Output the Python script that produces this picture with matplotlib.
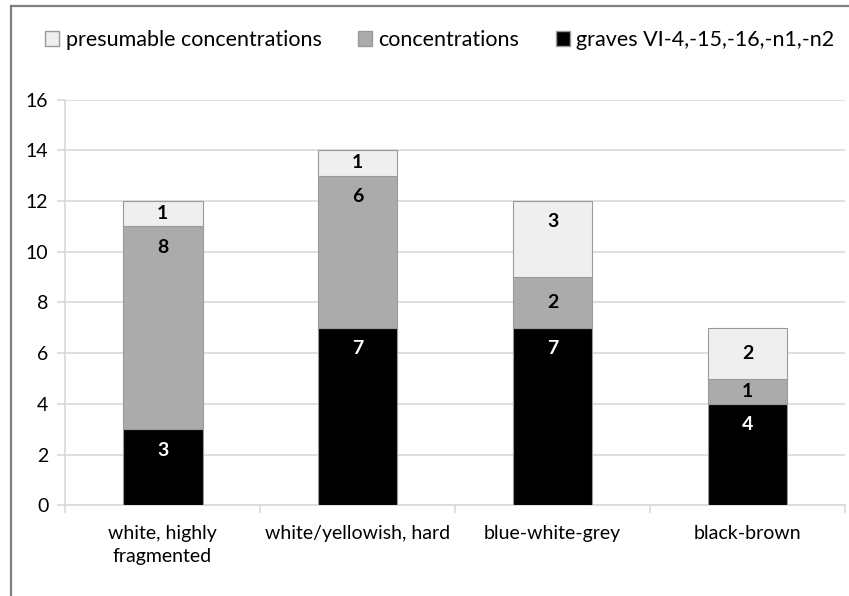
import numpy as np
import matplotlib.pyplot as plt
from matplotlib.lines import Line2D
from matplotlib.patches import Patch

categories = ['white, highly\nfragmented', 'white/yellowish, hard', 'blue-white-grey', 'black-brown']
graves = [3, 7, 7, 4]
concentrations = [8, 6, 2, 1]
presumable = [1, 1, 3, 2]
y_ticks = [0, 2, 4, 6, 8, 10, 12, 14, 16]

plt.rcParams['font.family'] = ['Lato', 'DejaVu Sans']

fig = plt.figure(figsize=(8.49, 5.96), dpi=100)
ax = fig.add_axes([0.0766, 0.152, 0.9187, 0.681])

x = np.arange(len(categories))
w = 0.41
series = [
    (graves, '#000000', 'graves VI-4,-15,-16,-n1,-n2', 'white'),
    (concentrations, '#ababab', 'concentrations', 'black'),
    (presumable, '#efefef', 'presumable concentrations', 'black'),
]
bottom = np.zeros(len(categories))
handles = []
for vals, color, label, tcolor in series:
    vals = np.array(vals)
    ax.bar(x, vals, w, bottom=bottom, color=color, edgecolor='#9a9a9a', linewidth=0.8, zorder=3)
    for xi, b, v in zip(x, bottom, vals):
        # short segments: label centred, tall ones: label near the top
        if v <= 2:
            ax.annotate(str(v), (xi, b + v / 2), ha='center', va='center', fontsize=14,
                        fontweight='bold', color=tcolor, zorder=4)
        else:
            ax.annotate(str(v), (xi, b + v), xytext=(0, -15), textcoords='offset points',
                        ha='center', va='center', fontsize=14, fontweight='bold',
                        color=tcolor, zorder=4)
    bottom = bottom + vals
    handles.append(Patch(facecolor=color, edgecolor='#9a9a9a', label=label))

ax.set_xlim(-0.5, 3.5)
ax.set_ylim(0, 16)
ax.set_yticks(y_ticks)
ax.yaxis.grid(True, color='#d9d9d9', linewidth=1.2, zorder=0)
ax.set_axisbelow(True)
ax.set_xticks(x)
ax.set_xticklabels(categories, fontsize=14, linespacing=1.45)
ax.set_xticks(np.arange(-0.5, 4, 1), minor=True)
ax.tick_params(axis='x', which='major', length=0, pad=14)
ax.tick_params(axis='x', which='minor', length=6, color='#d9d9d9', width=1.2)
ax.tick_params(axis='y', length=6, color='#d9d9d9', width=1.2, labelsize=14, pad=6)
for s in ['top', 'right']:
    ax.spines[s].set_visible(False)
for s in ['left', 'bottom']:
    ax.spines[s].set_color('#d9d9d9')
    ax.spines[s].set_linewidth(1.2)

fig.legend(handles=handles[::-1], loc='center', bbox_to_anchor=(0.518, 0.933), ncol=3,
           frameon=False, fontsize=15.5, handlelength=0.65, handleheight=0.65,
           handletextpad=0.3, columnspacing=1.7)

# frame drawn around the picture on the left and top
fig.add_artist(Line2D([0.013, 0.013], [0, 0.99], color='#7f7f7f', linewidth=1.6))
fig.add_artist(Line2D([0.013, 1.0], [0.99, 0.99], color='#7f7f7f', linewidth=1.6))

fig.savefig('out.png', dpi=100)
